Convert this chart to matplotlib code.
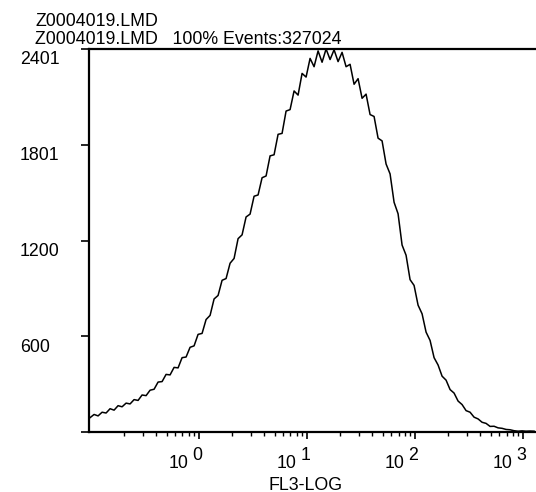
import numpy as np
import matplotlib
matplotlib.use("Agg")
import matplotlib.pyplot as plt
import matplotlib.transforms as mtransforms

# ---- data ----
log_start, log_end, n_channels = -1.01, 3.10, 112
counts = [90, 110, 101, 124, 119, 146, 137, 165, 158, 181, 176, 203, 198, 232, 228, 262,
          268, 313, 316, 361, 358, 405, 402, 466, 470, 531, 540, 612, 618, 705, 731, 834,
          856, 951, 962, 1058, 1088, 1212, 1236, 1348, 1366, 1478, 1486, 1594, 1605, 1731,
          1738, 1866, 1872, 2012, 2021, 2138, 2112, 2248, 2225, 2342, 2290, 2389, 2318, 2401,
          2335, 2396, 2322, 2380, 2290, 2305, 2180, 2215, 2092, 2118, 1990, 1978, 1842, 1825,
          1680, 1618, 1440, 1368, 1172, 1108, 955, 919, 795, 741, 626, 574, 466, 420, 350,
          325, 266, 244, 194, 172, 134, 124, 93, 82, 61, 54, 35, 36, 26, 23, 16, 14, 8, 5,
          7, 5, 6, 5]
y_ticks = [0, 600, 1200, 1801, 2401]
y_ticklabels = ["", "600", "1200", "1801", "2401"]
x_decades = [0, 1, 2, 3]
header1 = "Z0004019.LMD"
header2 = "Z0004019.LMD   100% Events:327024"
xlabel = "FL3-LOG"

fl3 = np.logspace(log_start, log_end, len(counts))

plt.rcParams['font.family'] = ['Liberation Sans', 'DejaVu Sans']
W, H = 536, 492
fig = plt.figure(figsize=(W / 100, H / 100), dpi=100)
left_px, right_px, top_px, bot_px = 89, 560, 49, 432
ax = fig.add_axes([left_px / W, 1 - bot_px / H, (right_px - left_px) / W, (bot_px - top_px) / H])

ax.plot(fl3, counts, color='black', lw=1.1)
ax.set_xscale('log')
ax.set_xlim(10 ** -1.02, 10 ** 3.34)
ax.set_ylim(0, 2401)

for s in ['left', 'top', 'bottom']:
    ax.spines[s].set_linewidth(1.6)
ax.spines['right'].set_visible(False)

ax.set_yticks(y_ticks)
ax.set_yticklabels([])
ax.tick_params(axis='y', length=6, width=1.2, direction='out')
ax.xaxis.set_major_locator(matplotlib.ticker.FixedLocator([10.0 ** d for d in x_decades]))
minor = [m * 10.0 ** d for d in [-1] + x_decades for m in range(2, 10)]
ax.xaxis.set_minor_locator(matplotlib.ticker.FixedLocator(minor))
ax.tick_params(axis='x', which='major', length=5, width=1.2, direction='out', labelbottom=False)
ax.tick_params(axis='x', which='minor', length=3, width=1.0, direction='out', labelbottom=False)

fs = 12.8
ytrans = ax.get_yaxis_transform()
off = mtransforms.ScaledTranslation(0, -11 / 100, fig.dpi_scale_trans)
for v, lab in zip(y_ticks, y_ticklabels):
    ax.text((20 - left_px) / (right_px - left_px), v, lab, transform=ytrans + off,
            ha='left', va='center', fontsize=fs, clip_on=False)

xtrans = ax.get_xaxis_transform()
for d in x_decades:
    o1 = mtransforms.ScaledTranslation(-11 / 100, -36 / 100, fig.dpi_scale_trans)
    o2 = mtransforms.ScaledTranslation(-7 / 100, -28 / 100, fig.dpi_scale_trans)
    ax.text(10.0 ** d, 0, "10", transform=xtrans + o1, ha='right', va='baseline',
            fontsize=fs, clip_on=False)
    ax.text(10.0 ** d, 0, str(d), transform=xtrans + o2, ha='left', va='baseline',
            fontsize=fs, clip_on=False)

fig.text(306 / W, 1 - 485 / H, xlabel, ha='center', va='center', fontsize=fs)
fig.text(35 / W, 1 - 21 / H, header1, ha='left', va='center', fontsize=fs)
fig.text(35 / W, 1 - 39 / H, header2, ha='left', va='center', fontsize=fs)

fig.savefig("out.png", dpi=100)
